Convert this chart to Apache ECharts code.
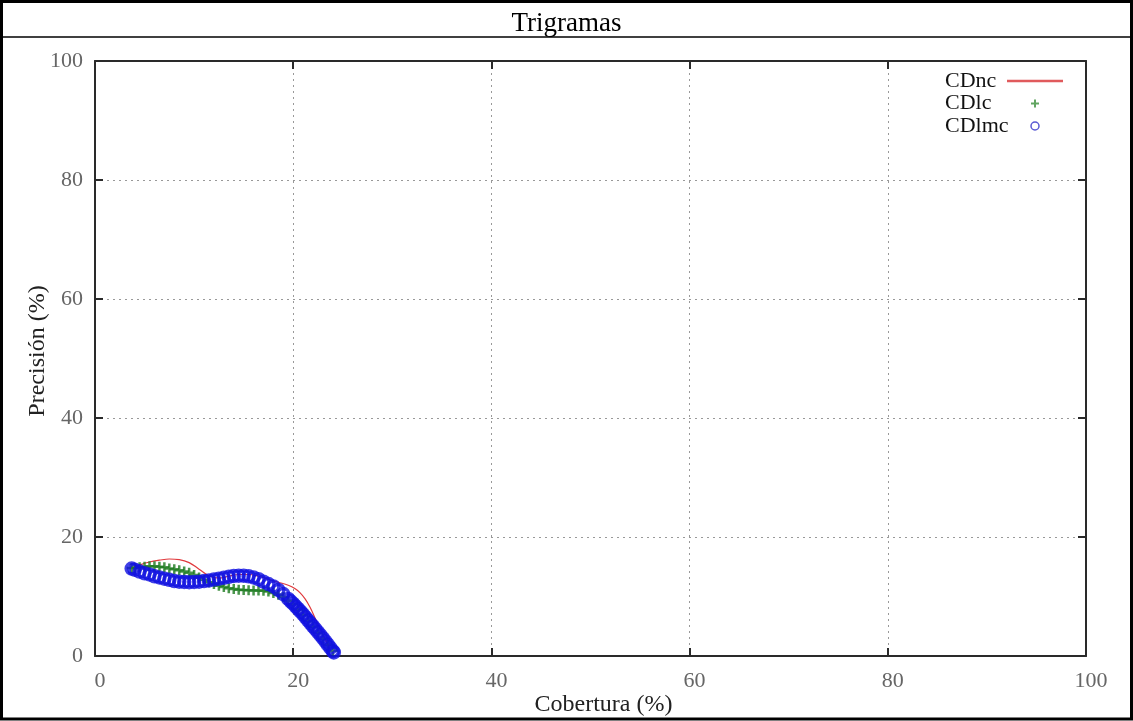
<!DOCTYPE html>
<html>
<head>
<meta charset="utf-8">
<script src="https://cdn.jsdelivr.net/npm/echarts@6/dist/echarts.min.js"></script>
<style>
  html, body { margin: 0; padding: 0; background: #fff; }
  #chart { width: 1133px; height: 721px; }
</style>
</head>
<body>
<div id="chart"></div>
<script>
// Axis ticks (percent)
const tickValues = [0, 20, 40, 60, 80, 100];

// CDnc: coverage / precision (%)
const coberturaCDnc = [3.7, 4.5, 5.5, 6.5, 7.5, 8.5, 9.5, 10.5, 11.5, 12.5, 13.5, 14.5, 15.5, 16.5, 17.5, 18.5, 19.5, 20.2, 20.7, 21.2, 21.7, 22.2, 22.7, 23.2, 23.7];
const precisionCDnc = [14.8, 15.3, 15.8, 16.1, 16.3, 16.2, 15.7, 14.6, 13.5, 13.1, 13.4, 13.7, 13.7, 13.4, 12.9, 12.4, 11.9, 11.3, 10.6, 9.6, 8.2, 6.4, 4.6, 2.9, 1.2];

// CDlc: coverage / precision (%)
const coberturaCDlc = [3.7, 4.0, 4.5, 5.0, 5.5, 6.0, 6.5, 7.0, 7.5, 8.0, 8.5, 9.0, 9.5, 10.0, 10.5, 11.0, 11.5, 12.0, 12.5, 13.0, 13.5, 14.0, 14.5, 15.0, 15.5, 16.0, 16.5, 17.0, 17.5, 18.0, 18.5, 19.0, 19.5, 20.0, 20.5, 21.0, 21.5, 22.0, 22.5, 23.0, 23.5, 24.0];
const precisionCDlc = [14.8, 14.8, 14.9, 15.0, 15.1, 15.1, 15.0, 14.9, 14.7, 14.6, 14.4, 14.2, 14.0, 13.6, 13.2, 12.8, 12.4, 12.1, 11.8, 11.6, 11.4, 11.25, 11.15, 11.1, 11.05, 11.0, 11.0, 10.95, 10.85, 10.6, 10.3, 9.9, 9.3, 8.7, 7.8, 6.9, 5.9, 4.9, 3.9, 2.9, 1.9, 0.9];

// CDlmc: coverage / precision (%)
const coberturaCDlmc = [3.7, 4.0, 4.5, 5.0, 5.5, 6.0, 6.5, 7.0, 7.5, 8.0, 8.5, 9.0, 9.5, 10.0, 10.5, 11.0, 11.5, 12.0, 12.5, 13.0, 13.5, 14.0, 14.5, 15.0, 15.5, 16.0, 16.5, 17.0, 17.5, 18.0, 18.5, 19.0, 19.5, 19.75, 20.0, 20.25, 20.5, 20.75, 21.0, 21.25, 21.5, 21.75, 22.0, 22.25, 22.5, 22.75, 23.0, 23.25, 23.5, 23.75, 24.0, 24.1];
const precisionCDlmc = [14.7, 14.5, 14.2, 13.9, 13.7, 13.4, 13.2, 13.0, 12.8, 12.6, 12.5, 12.45, 12.4, 12.45, 12.5, 12.6, 12.7, 12.85, 13.0, 13.15, 13.3, 13.45, 13.5, 13.5, 13.4, 13.2, 12.9, 12.5, 12.1, 11.7, 11.1, 10.4, 9.6, 9.2, 8.8, 8.35, 7.9, 7.45, 7.0, 6.5, 6.0, 5.5, 5.0, 4.5, 4.0, 3.5, 3.0, 2.45, 1.9, 1.35, 0.8, 0.6];

const serif = '"Liberation Serif", "Times New Roman", serif';
const frameColor = '#2a2a2a';
const plusSymbol = 'path://M3,0h2v8h-2zM0,3h8v2h-8z';
const dashSymbol = 'path://M0,2.75h56v2.5h-56z';

function pairs(xs, ys) {
  return xs.map((x, i) => [x, ys[i]]);
}

function valueAxis(extra) {
  return Object.assign({
    type: 'value',
    min: tickValues[0],
    max: tickValues[tickValues.length - 1],
    interval: tickValues[1] - tickValues[0],
    axisLine: { show: true, onZero: false, lineStyle: { color: frameColor, width: 2 } },
    axisTick: { show: true, inside: true, length: 8, lineStyle: { color: frameColor, width: 2 } },
    axisLabel: { show: false },
    splitLine: { show: false }
  }, extra);
}

const gridLine = { show: true, lineStyle: { color: '#999', width: 1, type: [2, 4] } };
const tickLabel = { show: true, fontFamily: serif, fontSize: 22, color: '#666' };

const chart = echarts.init(document.getElementById('chart'), null, { renderer: 'canvas' });

chart.setOption({
  backgroundColor: '#fff',
  animation: false,
  title: {
    text: 'Trigramas',
    left: 'center',
    top: 5,
    textStyle: { fontFamily: serif, fontSize: 27, fontWeight: 'normal', color: '#000' }
  },
  graphic: [
    {
      type: 'rect',
      silent: true,
      shape: { x: 1.5, y: 1.5, width: 1130, height: 717.5 },
      style: { fill: null, stroke: '#000', lineWidth: 3 }
    },
    {
      type: 'line',
      silent: true,
      shape: { x1: 3, y1: 37, x2: 1131, y2: 37 },
      style: { stroke: '#000', lineWidth: 1.5 }
    }
  ],
  grid: { left: 95, right: 47, top: 61, bottom: 65, outerBoundsMode: 'none', containLabel: false },
  legend: {
    orient: 'vertical',
    right: 70,
    top: 70,
    padding: 0,
    align: 'right',
    itemWidth: 56,
    itemHeight: 8,
    itemGap: 0.5,
    selectedMode: false,
    formatter: name => '{t|' + name + '}',
    textStyle: {
      fontFamily: serif, fontSize: 22, color: '#111',
      rich: { t: { width: 57, align: 'left', fontFamily: serif, fontSize: 22, lineHeight: 22, color: '#111' } }
    },
    data: [
      { name: 'CDnc', icon: dashSymbol, itemStyle: { color: '#e05a5c' } },
      { name: 'CDlc', itemStyle: { color: '#3b8f3b' } },
      { name: 'CDlmc', itemStyle: { color: 'rgba(0,0,0,0)', borderColor: '#3030c8', borderWidth: 1.5 } }
    ]
  },
  xAxis: [
    valueAxis({
      position: 'bottom',
      name: 'Cobertura (%)',
      nameLocation: 'middle',
      nameGap: 37,
      nameMoveOverlap: false,
      nameTextStyle: { fontFamily: serif, fontSize: 24, color: '#222', padding: [0, 0, 0, 26] },
      axisLabel: Object.assign({ margin: 14, padding: [0, 0, 0, 10] }, tickLabel),
      splitLine: gridLine
    }),
    valueAxis({ position: 'top' })
  ],
  yAxis: [
    valueAxis({
      position: 'left',
      name: 'Precisión (%)',
      nameLocation: 'middle',
      nameGap: 45,
      nameMoveOverlap: false,
      nameTextStyle: { fontFamily: serif, fontSize: 24, color: '#222', padding: [0, 0, 0, 15] },
      axisLabel: Object.assign({ margin: 12 }, tickLabel),
      splitLine: gridLine
    }),
    valueAxis({ position: 'right' })
  ],
  series: [
    {
      name: 'CDnc',
      type: 'line',
      data: pairs(coberturaCDnc, precisionCDnc),
      symbol: 'none',
      smooth: 0.4,
      lineStyle: { color: '#e03a3d', width: 1.2 },
      itemStyle: { color: '#e03a3d' },
      z: 2
    },
    {
      name: 'CDlc',
      type: 'scatter',
      data: pairs(coberturaCDlc, precisionCDlc),
      symbol: plusSymbol,
      symbolSize: 10,
      itemStyle: { color: '#1d7a1f' },
      z: 3
    },
    {
      name: 'CDlmc',
      type: 'scatter',
      data: pairs(coberturaCDlmc, precisionCDlmc),
      symbol: 'circle',
      symbolSize: 11,
      itemStyle: { color: 'rgba(0,0,0,0)', borderColor: '#1010e0', borderWidth: 3.5 },
      z: 4
    }
  ]
});
</script>
</body>
</html>
